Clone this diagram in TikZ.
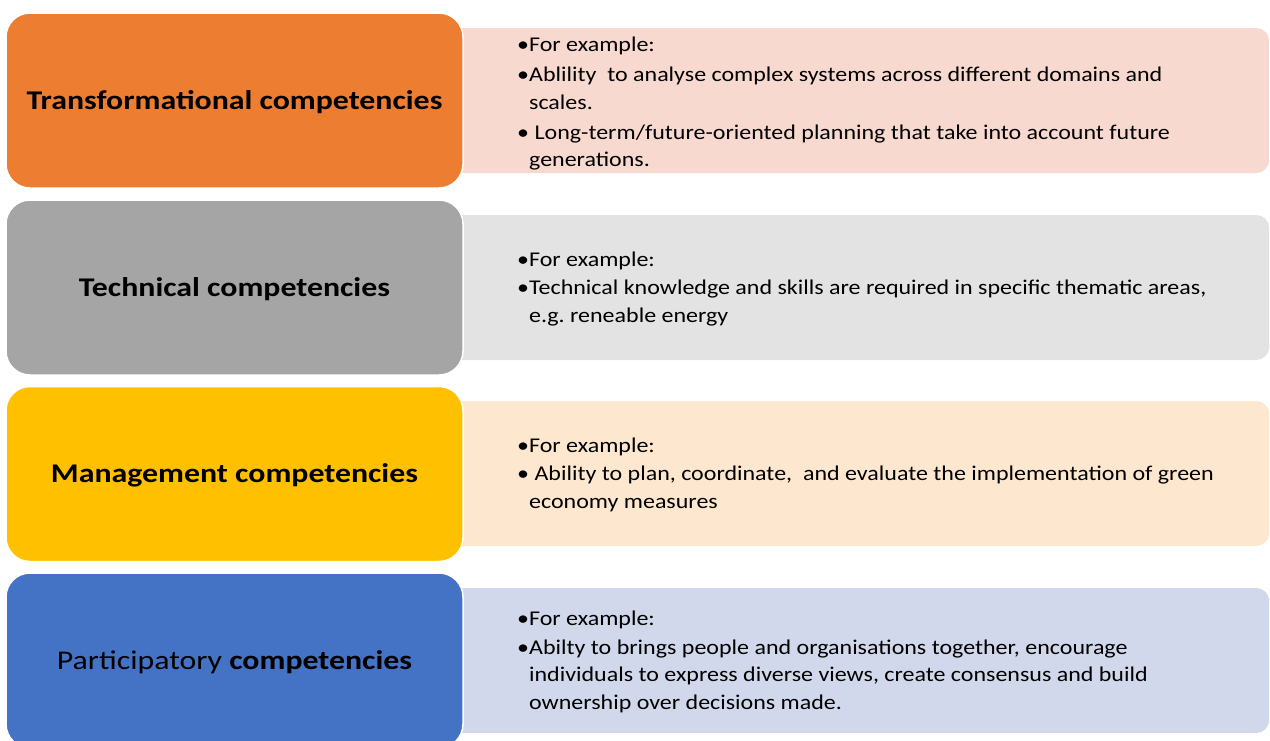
\documentclass[tikz,border=0pt]{standalone}
\usepackage{fontspec}
\setmainfont{Carlito}[FakeStretch=1.142]
\newfontfamily\headfont{Carlito}[FakeStretch=1.18]
\usetikzlibrary{positioning}
\frenchspacing

\definecolor{transdark}{HTML}{ED7D31}
\definecolor{translight}{HTML}{F8D9D0}
\definecolor{techdark}{HTML}{A5A5A5}
\definecolor{techlight}{HTML}{E3E3E3}
\definecolor{mgmtdark}{HTML}{FFC000}
\definecolor{mgmtlight}{HTML}{FDE8CF}
\definecolor{partdark}{HTML}{4472C4}
\definecolor{partlight}{HTML}{D2D8EB}

\newcommand{\cnt}{\phantom{•}}

\tikzset{
  headbox/.style={rounded corners=24pt, minimum width=457pt, minimum height=175pt,
    draw=white, line width=1.5pt, inner sep=0pt, text height=17.5pt, text depth=0pt,
    font=\headfont\bfseries\fontsize{27}{32}\selectfont},
  examplebox/.style={rounded corners=13pt, minimum width=829pt, minimum height=145pt,
    anchor=west, inner sep=0pt, draw=none},
  exampletext/.style={anchor=north west, inner sep=0pt, align=left,
    font=\fontsize{21}{27.5}\selectfont}
}

\begin{document}
\begin{tikzpicture}[x=1pt,y=-1pt]
\useasboundingbox (0,0) rectangle (1270,740);
\clip (0,0) rectangle (1270,740);
% light boxes behind
\node[examplebox, fill=translight] (transex) at (440,100.5) {};
\node[examplebox, fill=techlight] (techex) at (440,287.5) {};
\node[examplebox, fill=mgmtlight] (mgmtex) at (440,473.5) {};
\node[examplebox, fill=partlight] (partex) at (440,660.5) {};
% coloured heads
\node[headbox, fill=transdark] (trans) at (234.5,100.5) {Transformational competencies};
\node[headbox, fill=techdark] (tech) at (234.5,287.5) {Technical competencies};
\node[headbox, fill=mgmtdark] (mgmt) at (234.5,474) {Management competencies};
\node[headbox, fill=partdark] (part) at (234.5,660.5) {\mdseries Participatory \bfseries competencies};
% examples
\node[exampletext] (transtxt) at (517,37) {•For example:\\[2.5pt]
•Ablility\ \ to analyse complex systems across different domains and\\
\cnt scales.\\[2.5pt]
• Long-term/future-oriented planning that take into account future\\
\cnt generations.};
\node[exampletext] (techtxt) at (517,251.5) {•For example:\\[1pt]
•Technical knowledge and skills are required in specific thematic areas,\\
\cnt e.g. reneable energy};
\node[exampletext] (mgmttxt) at (517,437.5) {•For example:\\[1pt]
• Ability to plan, coordinate,\ \ and evaluate the implementation of green\\
\cnt economy measures};
\node[exampletext] (parttxt) at (517,611) {•For example:\\[1pt]
•Abilty to brings people and organisations together, encourage\\
\cnt individuals to express diverse views, create consensus and build\\
\cnt ownership over decisions made.};
\end{tikzpicture}
\end{document}
